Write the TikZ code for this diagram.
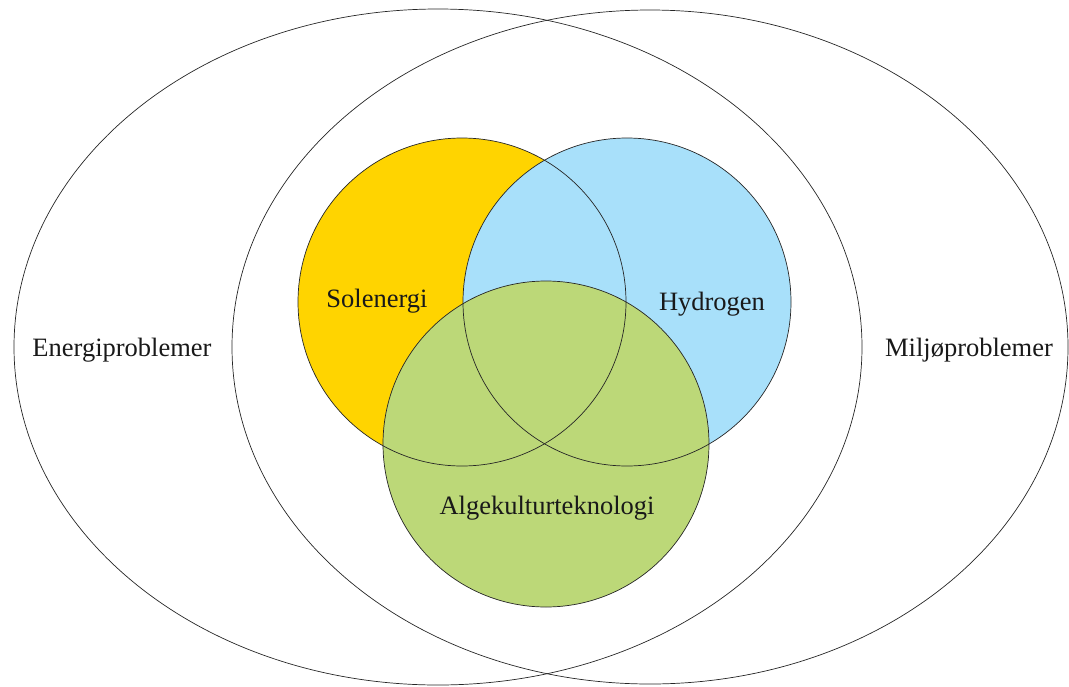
\documentclass[tikz,border=0pt]{standalone}
\usepackage{fontspec}
\setmainfont{Liberation Serif}
\definecolor{solgul}{HTML}{FFD400}
\definecolor{hydroblaa}{HTML}{A8E0FA}
\definecolor{algegronn}{HTML}{BCD878}
\tikzset{
	omraade/.style = {draw = black!85, line width = 0.7pt},
	etikett/.style = {font = \fontsize{26.5}{30}\selectfont, text = black!90, inner sep = 0pt}
}
\begin{document}
\begin{tikzpicture}[x = 1pt, y = -1pt]
		\useasboundingbox (0, 0) rectangle (1069, 686);
		% fyll
		\fill [solgul] (462, 302) circle (164);
		\fill [hydroblaa] (627, 302) circle (164);
		\fill [algegronn] (546, 444) circle (163);
		% omriss
		\begin{scope} [omraade]
		\draw (438, 347) ellipse (424 and 338);
		\draw (650, 347) ellipse (418 and 337);
		\draw (462, 302) circle (164);
		\draw (627, 302) circle (164);
		\draw (546, 444) circle (163);
		\end{scope}
		\node [etikett] (energi) at (122, 350) {Energiproblemer};
		\node [etikett] (miljo) at (969, 350) {Miljøproblemer};
		\node [etikett] (sol) at (377, 301) {Solenergi};
		\node [etikett] (hydro) at (712, 304) {Hydrogen};
		\node [etikett] (alge) at (547, 508) {Algekulturteknologi};
		
		\end{tikzpicture}
\end{document}
